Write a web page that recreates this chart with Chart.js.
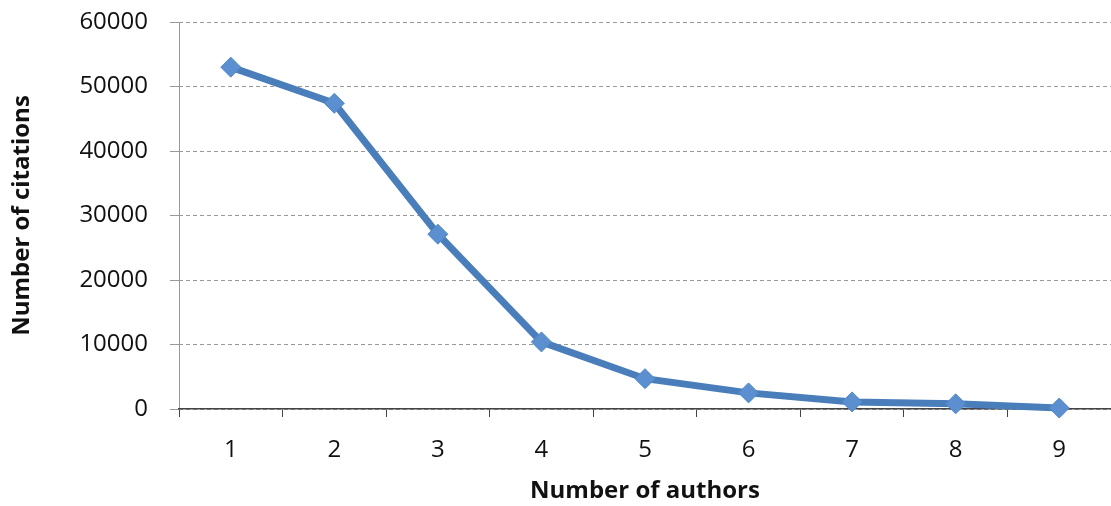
<!DOCTYPE html>
<html>
<head>
<meta charset="utf-8">
<script src="https://cdn.jsdelivr.net/npm/chart.js@4/dist/chart.umd.min.js"></script>
<style>
  html, body { margin: 0; padding: 0; background: #fff; }
  #wrap { width: 1111px; height: 506px; position: relative; }
</style>
</head>
<body>
<div id="wrap"><canvas id="c"></canvas></div>
<script>
const authors = ['1', '2', '3', '4', '5', '6', '7', '8', '9'];
const citations = [53000, 47400, 27100, 10400, 4700, 2500, 1100, 800, 150];
const yTicks = [0, 10000, 20000, 30000, 40000, 50000, 60000];

const lineBlue = '#4a7ebb';
const font = 'Open Sans';

new Chart(document.getElementById('c'), {
  type: 'line',
  data: {
    labels: authors,
    datasets: [{
      data: citations,
      borderColor: lineBlue,
      borderWidth: 7,
      pointStyle: 'rectRot',
      pointRadius: 10,
      pointBackgroundColor: '#5b8fd0',
      pointBorderColor: '#5088c8',
      pointBorderWidth: 1,
      tension: 0,
      clip: false,
    }],
  },
  options: {
    responsive: true,
    maintainAspectRatio: false,
    animation: false,
    layout: { autoPadding: false, padding: { top: 22, right: 0, left: 0, bottom: 0 } },
    plugins: { legend: { display: false }, tooltip: { enabled: false } },
    scales: {
      x: {
        offset: true,
        grid: {
          offset: true,
          drawOnChartArea: true,
          // only the first line is kept: it stands in for a solid y axis
          color: ctx => (ctx.index === 0 ? '#999' : 'rgba(0,0,0,0)'),
          tickColor: '#444',
          tickLength: 8,
        },
        border: { color: '#444', width: 1.5 },
        ticks: { color: '#111', font: { family: font, size: 24 }, padding: 19 },
        title: { display: true, text: 'Number of authors', color: '#111',
                 font: { family: font, size: 24, weight: 'bold' }, padding: { top: 0, bottom: 0 } },
        afterFit: s => { s.height = 97; s.paddingLeft = 0; s.paddingRight = 0; },
      },
      y: {
        min: 0,
        max: 60000,
        afterBuildTicks: s => { s.ticks = yTicks.map(v => ({ value: v })); },
        grid: { color: '#999', tickLength: 9, lineWidth: 1 },
        border: { display: false, dash: [4, 3] },
        ticks: { color: '#111', font: { family: font, size: 24 }, padding: 22, callback: v => String(v) },
        title: { display: true, text: 'Number of citations', color: '#111',
                 font: { family: font, size: 24, weight: 'bold' }, padding: { top: 8, bottom: 0 } },
        afterFit: s => { s.width = 179; s.paddingTop = 0; s.paddingBottom = 0; },
      },
    },
  },
});
</script>
</body>
</html>
